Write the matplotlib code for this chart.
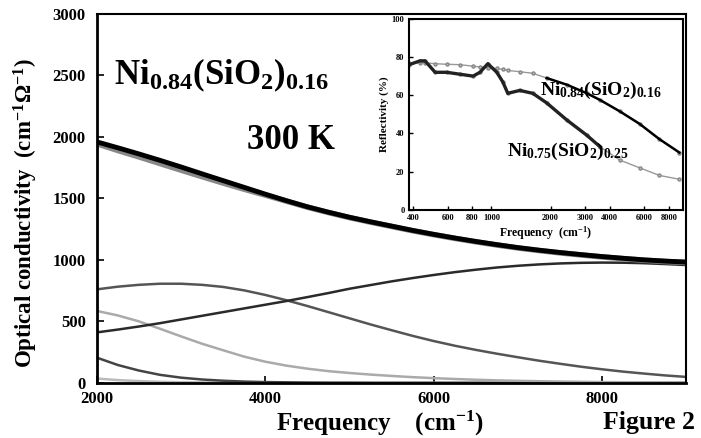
import numpy as np
import matplotlib
matplotlib.use('Agg')
import matplotlib.pyplot as plt

plt.rcParams['font.family'] = ['Liberation Serif', 'DejaVu Serif']
plt.rcParams['font.weight'] = 'bold'
plt.rcParams['mathtext.fontset'] = 'custom'
plt.rcParams['mathtext.rm'] = 'Liberation Serif:bold'
plt.rcParams['mathtext.it'] = 'Liberation Serif:bold'
plt.rcParams['mathtext.bf'] = 'Liberation Serif:bold'

# Main panel: optical conductivity vs frequency (cm^-1)
freq = [2000, 2250, 2500, 2750, 3000, 3250, 3500, 3750, 4000, 4250, 4500, 4750, 5000, 5250, 5500,
        5750, 6000, 6250, 6500, 6750, 7000, 7250, 7500, 7750, 8000, 8250, 8500, 8750, 9000]
sigma_total = [1960, 1912, 1862, 1810, 1756, 1700, 1645, 1590, 1535, 1482, 1432, 1388, 1347, 1310, 1275,
               1240, 1208, 1178, 1150, 1124, 1100, 1079, 1060, 1043, 1027, 1013, 1000, 990, 982]
sigma_fit = [1945, 1890, 1838, 1784, 1730, 1677, 1625, 1575, 1527, 1478, 1429, 1385, 1344, 1307, 1272,
             1237, 1205, 1175, 1147, 1121, 1097, 1076, 1057, 1040, 1024, 1010, 997, 987, 979]
sigma_rise = [410, 433, 458, 485, 515, 545, 575, 605, 635, 665, 697, 730, 765, 795, 825,
              852, 877, 900, 920, 938, 952, 963, 971, 976, 978, 977, 973, 966, 958]
sigma_hump = [760, 782, 797, 806, 806, 797, 780, 752, 715, 672, 625, 575, 525, 475, 428,
              382, 340, 302, 268, 237, 208, 180, 155, 131, 110, 91, 75, 60, 48]
sigma_light = [585, 548, 500, 440, 378, 318, 265, 213, 172, 140, 115, 95, 80, 67, 56,
               46, 38, 31, 25, 20, 16, 13, 10, 8, 6, 5, 4, 3, 2]
sigma_drude = [205, 145, 100, 65, 42, 27, 17, 10, 6, 4, 2, 1, 1, 0, 0,
               0, 0, 0, 0, 0, 0, 0, 0, 0, 0, 0, 0, 0, 0]
sigma_small = [35, 22, 14, 8, 5, 3, 2, 1, 0, 0, 0, 0, 0, 0, 0,
               0, 0, 0, 0, 0, 0, 0, 0, 0, 0, 0, 0, 0, 0]

# Inset: reflectivity (%) vs frequency (log scale)
r_freq = [382, 434, 460, 518, 594, 691, 808, 875, 960, 1066, 1143, 1212, 1395, 1623,
          1910, 2421, 3060, 3570, 4505, 5670, 7150, 9030]
r_075 = [76, 78, 78, 72, 72, 71, 70, 72, 76.5, 72, 67, 61, 62.5, 61,
         56, 47, 39, 33, 26, 22, 18, 16]
r_084 = [77, 77, 77, 76.5, 76.2, 76, 75.2, 74.8, 74.4, 74, 73.5, 73, 72.3, 71.5,
         69, 65.5, 61, 57.5, 51.5, 45, 37, 30]

fig = plt.figure(figsize=(7.01, 4.38), dpi=100)
ax = fig.add_axes([0.138, 0.126, 0.841, 0.842])

ax.plot(freq, sigma_small, color='#bbbbbb', lw=1.8)
ax.plot(freq, sigma_drude, color='#444444', lw=1.8)
ax.plot(freq, sigma_light, color='#aaaaaa', lw=1.8)
ax.plot(freq, sigma_hump, color='#555555', lw=1.8)
ax.plot(freq, sigma_rise, color='#2a2a2a', lw=1.8)
ax.plot(freq, sigma_fit, color='#888888', lw=4)
ax.plot(freq, sigma_total, color='black', lw=3.5)

ax.set_xlim(2000, 9000)
ax.set_ylim(0, 3000)
ax.set_xticks([2000, 4000, 6000, 8000])
ax.set_yticks(range(0, 3001, 500))
ax.tick_params(direction='in', labelsize=12, width=1.2, length=5, pad=8)
ax.tick_params(axis='x', pad=6)
for lab in ax.get_xticklabels() + ax.get_yticklabels():
    lab.set_fontweight('bold')
for s in ax.spines.values():
    s.set_linewidth(1.5)
ax.spines['left'].set_linewidth(2)
ax.spines['bottom'].set_linewidth(2)

ax.set_ylabel('Optical conductivity  (cm$^{-1}$Ω$^{-1}$)', fontsize=16.5, fontweight='bold')
ax.yaxis.set_label_coords(-0.097, 0.46)
fig.text(0.542, 0.018, 'Frequency    (cm$^{-1}$)', fontsize=18, fontweight='bold', ha='center')
fig.text(0.86, 0.02, 'Figure 2', fontsize=18.5, fontweight='bold', ha='left')

ax.text(0.03, 0.81, 'Ni$_{0.84}$(SiO$_2$)$_{0.16}$', transform=ax.transAxes,
        fontsize=25, fontweight='bold')
ax.text(0.255, 0.635, '300 K', transform=ax.transAxes, fontsize=25, fontweight='bold')

# Inset
ins = fig.add_axes([0.583, 0.521, 0.391, 0.436])
ins.plot(r_freq, r_084, color='#999999', lw=1, marker='o', ms=2.2, mfc='#bbbbbb', mec='#888888')
ins.plot(r_freq, r_075, color='#999999', lw=1, marker='o', ms=2.2, mfc='#bbbbbb', mec='#888888')
ins.plot(r_freq[:18], r_075[:18], color='#222222', lw=2.4)
ins.plot(r_freq[14:], r_084[14:], color='black', lw=1.8)
ins.set_xscale('log')
ins.set_xlim(380, 9400)
ins.set_ylim(0, 100)
ins.set_xticks([400, 600, 800, 1000, 2000, 3000, 4000, 6000, 8000])
ins.set_xticklabels(['400', '600', '800', '1000', '2000', '3000', '4000', '6000', '8000'])
ins.xaxis.set_minor_locator(matplotlib.ticker.NullLocator())
ins.set_yticks(range(0, 101, 20))
ins.tick_params(direction='in', labelsize=6, length=3, width=1, pad=3)
for lab in ins.get_xticklabels() + ins.get_yticklabels():
    lab.set_fontweight('bold')
for s in ins.spines.values():
    s.set_linewidth(1.5)
ins.set_ylabel('Reflectivity (%)', fontsize=8, fontweight='bold', labelpad=2)
ins.set_xlabel('Frequency  (cm$^{-1}$)', fontsize=8.5, fontweight='bold', labelpad=2)
ins.text(0.48, 0.60, 'Ni$_{0.84}$(SiO$_2$)$_{0.16}$', transform=ins.transAxes,
         fontsize=14, fontweight='bold')
ins.text(0.36, 0.28, 'Ni$_{0.75}$(SiO$_2$)$_{0.25}$', transform=ins.transAxes,
         fontsize=14, fontweight='bold')

fig.savefig('out.png', dpi=100)
